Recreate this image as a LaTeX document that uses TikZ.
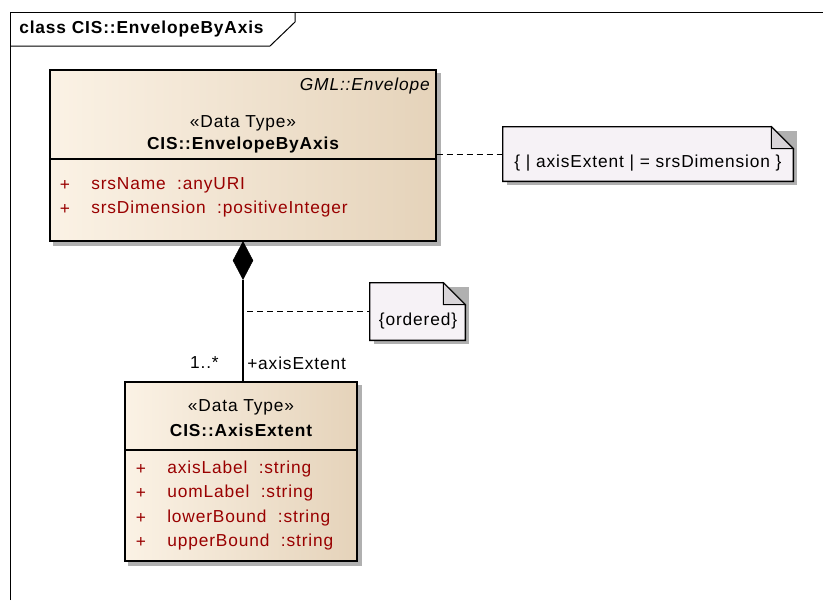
\documentclass[tikz,border=0pt]{standalone}
\usepackage{fontspec}
\setmainfont[LetterSpace=5]{Liberation Sans}
\usetikzlibrary{shapes.geometric,calc,positioning,backgrounds}
\usepackage{xcolor}
\definecolor{clsL}{HTML}{FBF2E5}
\definecolor{clsR}{HTML}{E5D3BA}
\definecolor{mattr}{HTML}{990000}
\definecolor{noteC}{HTML}{F6F2F6}
\definecolor{foldC}{HTML}{D8D4D8}
\definecolor{shadowC}{HTML}{B0B0B0}
\tikzstyle{l0}=[line width=0.75pt]
\tikzstyle{l1}=[line width=1.1pt]
\tikzstyle{cls}=[rectangle, l1, draw=black, left color=clsL, right color=clsR, inner sep=0pt]
\tikzstyle{note}=[rectangle, inner sep=0pt]
\tikzstyle{attr}=[anchor=west, text=mattr, inner sep=0pt]
\tikzstyle{txt}=[inner sep=0pt]
\tikzstyle{dash1}=[l0, dash pattern=on 4.5pt off 3pt]

\begin{document}
\begin{tikzpicture}[x=0.75pt, y=-0.75pt, font=\fontsize{13}{15}\selectfont]
    \useasboundingbox (0,0) rectangle (823,600);

    % frame and title tab
    \draw[l0] (10,600) -- (10,12) -- (823,12);
    \draw[l0] (10,46) -- (270,46) -- (295,22) -- (295,12);
    \node (title) [txt, anchor=west, font=\fontsize{13}{15}\selectfont\bfseries] at (19,29) {class CIS::EnvelopeByAxis};

    % class boxes
    \node (cls1) [cls, minimum width=289.5pt, minimum height=128.25pt] at (243,155.5) {};
    \draw[l1] (cls1.west |- 0,159) -- (cls1.east |- 0,159);
    \node (gml) [txt, anchor=east, font=\fontsize{13}{15}\selectfont\itshape] at (430,86) {GML::Envelope};
    \node (st1) [txt] at (243,123) {«Data Type»};
    \node (nm1) [txt, font=\fontsize{13}{15}\selectfont\bfseries] at (243,145) {CIS::EnvelopeByAxis};
    \node (p11) [txt, text=mattr] at (65,185) {+};
    \node (a11) [attr] at (91,185) {srsName\ \ :anyURI};
    \node (p12) [txt, text=mattr] at (65,209) {+};
    \node (a12) [attr] at (91,209) {srsDimension\ \ :positiveInteger};

    \node (cls2) [cls, minimum width=174pt, minimum height=134.25pt] at (241,471.5) {};
    \draw[l1] (cls2.west |- 0,450) -- (cls2.east |- 0,450);
    \node (st2) [txt] at (241,407) {«Data Type»};
    \node (nm2) [txt, font=\fontsize{13}{15}\selectfont\bfseries] at (241,430) {CIS::AxisExtent};
    \foreach \y/\a [count=\i] in {469/axisLabel\ \ :string, 493/uomLabel\ \ :string, 518/lowerBound\ \ :string, 542/upperBound\ \ :string} {
        \node (p2\i) [txt, text=mattr] at (141,\y) {+};
        \node (a2\i) [attr] at (167,\y) {\a};
    }

    % notes
    \node (note1) [note, minimum width=217.5pt, minimum height=40.5pt] at (648,154) {};
    \node (note2) [note, minimum width=71.25pt, minimum height=42.75pt] at (417.5,311.5) {};
    \foreach \n in {note1, note2} {
        \draw[l1, fill=noteC] (\n.south west) -- (\n.north west) -- ($(\n.north east)+(-22,0)$)
            -- ($(\n.north east)+(0,22)$) -- (\n.south east) -- cycle;
        \draw[l0, fill=foldC] ($(\n.north east)+(-22,0)$) -- ($(\n.north east)+(-22,22)$)
            -- ($(\n.north east)+(0,22)$) -- cycle;
    }
    \node (t1) [txt] at (648,163) {\{ | axisExtent | = srsDimension \}};
    \node (t2) [txt] at (418,321) {\{ordered\}};

    % shadows
    \begin{scope}[on background layer]
    \foreach \n in {cls1, cls2, note1, note2}
        \fill[shadowC] ($(\n.south west)+(4,4)$) rectangle ($(\n.north east)+(4,4)$);
    \end{scope}

    % composition
    \node (dia) [diamond, fill=black, draw=black, inner sep=0pt, minimum width=15pt, minimum height=28.5pt] at (243,260.5) {};
    \draw[l1] (dia.south) -- (dia.south |- cls2.north);
    \node (m1) [txt, anchor=east] at (219,363) {1..*};
    \node (r1) [txt, anchor=west] at (247,363) {+axisExtent};

    % note links
    \draw[dash1] (note1.west -| cls1.east) -- (note1.west);
    \coordinate (c2) at ($(dia.south |- note2.west)+(4,0)$);
    \draw[dash1] (c2) -- (note2.west);
\end{tikzpicture}
\end{document}
